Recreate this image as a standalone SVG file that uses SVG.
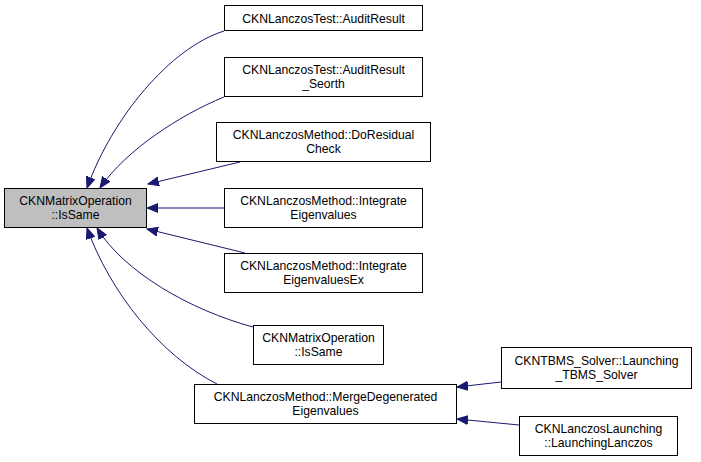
<svg xmlns="http://www.w3.org/2000/svg" width="701" height="462" viewBox="0 0 701 462">
<style>
.box{fill:#ffffff;stroke:#000000;stroke-width:1}
.main{fill:#bfbfbf;stroke:#000000;stroke-width:1}
text{font-family:"Liberation Sans",Arial,sans-serif;font-size:12.2px;fill:#000000;text-anchor:middle}
.edge{fill:none;stroke:#191970;stroke-width:1}
</style>
<defs>
<marker id="ah" markerUnits="userSpaceOnUse" markerWidth="12" markerHeight="10" refX="11" refY="5" orient="auto" viewBox="0 0 12 10">
<path d="M0,0.5 L11,5 L0,9.5 Z" fill="#191970" stroke="#191970" stroke-width="1"/>
</marker>
</defs>
<rect width="701" height="462" fill="#ffffff"/>
<g id="edges">
<path class="edge" marker-end="url(#ah)" d="M224,31 C170,48 112,118 87,188"/>
<path class="edge" marker-end="url(#ah)" d="M224,97 C180,115 126,150 100,188"/>
<path class="edge" marker-end="url(#ah)" d="M240,162 L148,184"/>
<path class="edge" marker-end="url(#ah)" d="M224,208 L147,208"/>
<path class="edge" marker-end="url(#ah)" d="M245,253 L147,229"/>
<path class="edge" marker-end="url(#ah)" d="M253,327 C190,310 124,272 97,228"/>
<path class="edge" marker-end="url(#ah)" d="M217,384 C160,355 110,292 87,228"/>
<path class="edge" marker-end="url(#ah)" d="M501,382 L457,387"/>
<path class="edge" marker-end="url(#ah)" d="M519,425 L457,419"/>
</g>
<g id="node-main">
<rect class="main" x="4.5" y="188.5" width="142" height="39"/>
<text x="75.5" y="205">CKNMatrixOperation</text>
<text x="75.5" y="219">::IsSame</text>
</g>
<g id="node-auditresult">
<rect class="box" x="224.5" y="5.5" width="198" height="25"/>
<text x="323.5" y="22.5">CKNLanczosTest::AuditResult</text>
</g>
<g id="node-auditresult-seorth">
<rect class="box" x="224.5" y="57.5" width="198" height="39"/>
<text x="323.5" y="74">CKNLanczosTest::AuditResult</text>
<text x="323.5" y="88">_Seorth</text>
</g>
<g id="node-doresidualcheck">
<rect class="box" x="216.5" y="122.5" width="214" height="39"/>
<text x="323.5" y="139">CKNLanczosMethod::DoResidual</text>
<text x="323.5" y="153">Check</text>
</g>
<g id="node-integrate">
<rect class="box" x="224.5" y="188.5" width="198" height="39"/>
<text x="323.5" y="205">CKNLanczosMethod::Integrate</text>
<text x="323.5" y="219">Eigenvalues</text>
</g>
<g id="node-integrate-ex">
<rect class="box" x="224.5" y="253.5" width="198" height="39"/>
<text x="323.5" y="270">CKNLanczosMethod::Integrate</text>
<text x="323.5" y="284">EigenvaluesEx</text>
</g>
<g id="node-issame2">
<rect class="box" x="253.5" y="325.5" width="130" height="39"/>
<text x="318.5" y="342">CKNMatrixOperation</text>
<text x="318.5" y="356">::IsSame</text>
</g>
<g id="node-merge">
<rect class="box" x="194.5" y="384.5" width="262" height="39"/>
<text x="325.5" y="401">CKNLanczosMethod::MergeDegenerated</text>
<text x="325.5" y="415">Eigenvalues</text>
</g>
<g id="node-tbms">
<rect class="box" x="501.5" y="347.5" width="190" height="41"/>
<text x="596.5" y="365">CKNTBMS_Solver::Launching</text>
<text x="596.5" y="379">_TBMS_Solver</text>
</g>
<g id="node-launching">
<rect class="box" x="519.5" y="416.5" width="158" height="39"/>
<text x="598.5" y="433">CKNLanczosLaunching</text>
<text x="598.5" y="447">::LaunchingLanczos</text>
</g>
</svg>
